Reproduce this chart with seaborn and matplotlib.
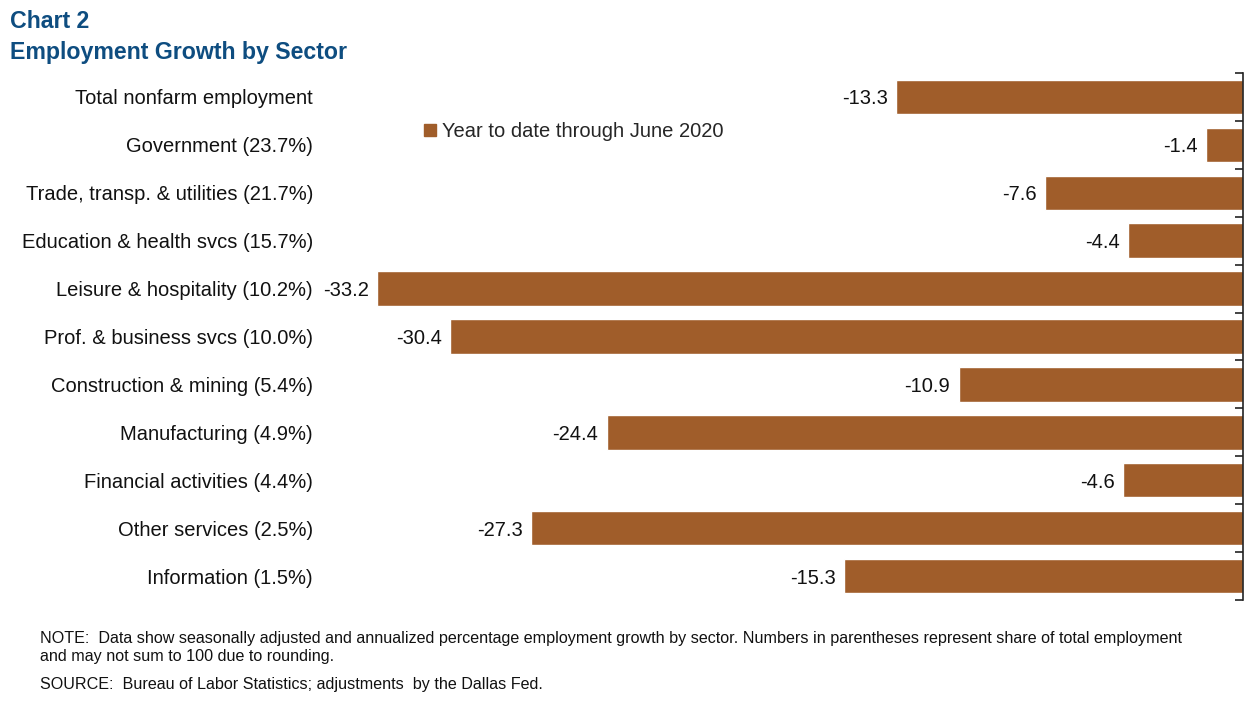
import matplotlib
matplotlib.use("Agg")
import matplotlib.pyplot as plt
from matplotlib.lines import Line2D
import seaborn as sns
import pandas as pd
import numpy as np

categories = ["Total nonfarm employment", "Government (23.7%)", "Trade, transp. & utilities (21.7%)",
              "Education & health svcs (15.7%)", "Leisure & hospitality (10.2%)",
              "Prof. & business svcs (10.0%)", "Construction & mining (5.4%)",
              "Manufacturing (4.9%)", "Financial activities (4.4%)", "Other services (2.5%)",
              "Information (1.5%)"]
values = [-13.3, -1.4, -7.6, -4.4, -33.2, -30.4, -10.9, -24.4, -4.6, -27.3, -15.3]
series_name = "Year to date through June 2020"

sns.set_theme(style="white")
plt.rcParams['font.family'] = ['Liberation Sans', 'DejaVu Sans']

bar_color = "#A05D2A"
title_color = "#0E4D80"

df = pd.DataFrame({"sector": categories, "value": values})

fig = plt.figure(figsize=(12.44, 7.04), dpi=100)
ax = fig.add_axes([377/1244, 1 - 600/704, (1243 - 377)/1244, (600 - 73)/704])

sns.barplot(data=df, x="value", y="sector", orient="h", color=bar_color,
            width=0.72, saturation=1, ax=ax)

ax.set_xlim(-33.2, 0)
ax.set_ylim(len(categories) - 0.5, -0.5)
ax.set_xlabel("")
ax.set_ylabel("")
ax.set_xticks([])

for sp in ["top", "left", "bottom"]:
    ax.spines[sp].set_visible(False)
ax.spines["right"].set_visible(True)
ax.spines["right"].set_color("#222222")
ax.spines["right"].set_linewidth(1.2)

ax.set_yticks(range(len(categories)))
ax.set_yticklabels(categories, fontsize=14.5, color="#111111")
ax.tick_params(axis="y", which="major", left=False, right=False, pad=40)
ax.set_yticks(np.arange(-0.5, len(categories), 1), minor=True)
ax.tick_params(axis="y", which="minor", left=False, right=True, direction="in",
               length=6, width=1.2, color="#222222")

for i, v in enumerate(values):
    ax.annotate(f"{v:.1f}", xy=(v, i), xytext=(-6, 0), textcoords="offset points",
                ha="right", va="center_baseline", fontsize=14.5, color="#111111",
                annotation_clip=False)

handle = Line2D([], [], marker="s", linestyle="", color=bar_color, markersize=8)
ax.legend([handle], [series_name], loc="upper left", bbox_to_anchor=(0.04, 0.922),
          frameon=False, fontsize=14.5, handletextpad=0.1, borderaxespad=0,
          handlelength=1.0)

fig.text(10/1244, 1 - 22/704, "Chart 2", fontsize=16.7, fontweight="bold",
         color=title_color, va="center", ha="left")
fig.text(10/1244, 1 - 53/704, "Employment Growth by Sector", fontsize=16.7,
         fontweight="bold", color=title_color, va="center", ha="left")

fig.text(40/1244, 1 - 638/704,
         "NOTE:  Data show seasonally adjusted and annualized percentage employment growth by sector. Numbers in parentheses represent share of total employment",
         fontsize=11.6, color="#111111", va="center", ha="left")
fig.text(40/1244, 1 - 657/704, "and may not sum to 100 due to rounding.",
         fontsize=11.6, color="#111111", va="center", ha="left")
fig.text(40/1244, 1 - 684/704, "SOURCE:  Bureau of Labor Statistics; adjustments  by the Dallas Fed.",
         fontsize=11.6, color="#111111", va="center", ha="left")

fig.savefig("out.png", dpi=100)
